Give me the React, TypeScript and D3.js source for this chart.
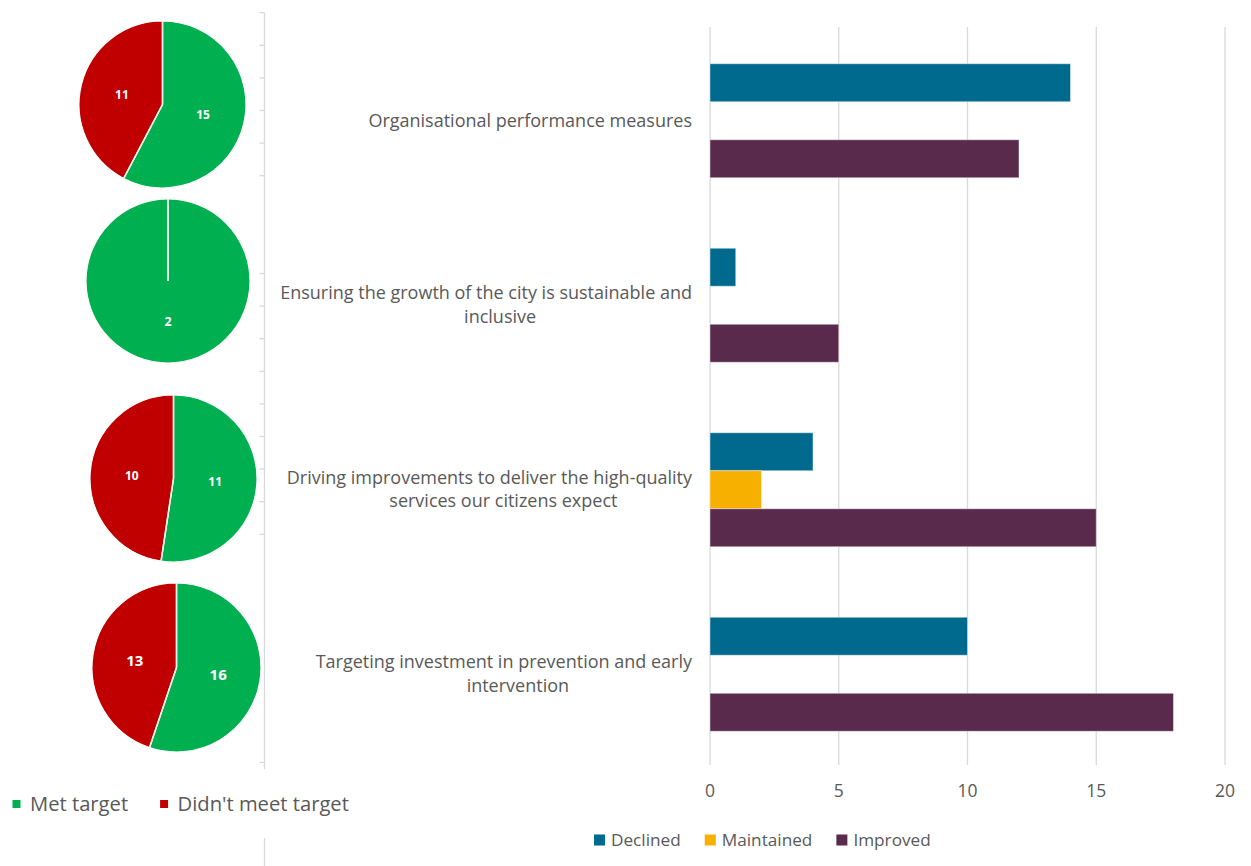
import { useEffect, useRef } from "react";
import * as d3 from "d3";

// bar chart data
const categories = [
  ["Organisational performance measures"],
  ["Ensuring the growth of the city is sustainable and", "inclusive"],
  ["Driving improvements to deliver the high-quality", "services our citizens expect"],
  ["Targeting investment in prevention and early", "intervention"],
];
const seriesNames = ["Declined", "Maintained", "Improved"];
const declined = [14, 1, 4, 10];
const maintained = [0, 0, 2, 0];
const improved = [12, 5, 15, 18];
const xTicks = [0, 5, 10, 15, 20];

// pie data (one pie per row)
const pieMet = [15, 2, 11, 16];
const pieMissed = [11, 0, 10, 13];
const pieLegend = ["Met target", "Didn't meet target"];

const seriesColors = ["#006a8e", "#f8b000", "#5a2a4c"];
const pieColors = ["#00b050", "#c00000"];
const textGray = "#595959";
const gridGray = "#d9d9d9";
const font = "'Open Sans', sans-serif";

// where the pies sit (they were placed by hand in the original)
const pieLayout = [
  { cx: 162.5, cy: 104.5, r: 83.5, fs: 12 },
  { cx: 168, cy: 281, r: 82, fs: 12.5 },
  { cx: 173.5, cy: 478.5, r: 83.5, fs: 12 },
  { cx: 176.5, cy: 667.5, r: 84.5, fs: 15 },
];

const W = 1251;
const H = 866;

export default function App() {
  const ref = useRef<SVGSVGElement | null>(null);

  useEffect(() => {
    if (!ref.current) return;
    const svg = d3.select(ref.current);
    svg.selectAll("*").remove();

    // ---- left axis line with ticks
    const axisX = 264.5;
    const tickStep = 32.6;
    const tickTop = 12.7;
    const tickIdx = [0, 1, 2, 3, 4, 5, 8, 9, 10, 11, 12, 13, 14, 15, 16, 23];
    svg.append("line")
      .attr("x1", axisX).attr("x2", axisX)
      .attr("y1", tickTop).attr("y2", 769)
      .attr("stroke", gridGray).attr("stroke-width", 1.3);
    svg.selectAll("line.ltick")
      .data(tickIdx)
      .enter().append("line")
      .attr("class", "ltick")
      .attr("x1", axisX - 5).attr("x2", axisX)
      .attr("y1", d => tickTop + d * tickStep)
      .attr("y2", d => tickTop + d * tickStep)
      .attr("stroke", gridGray).attr("stroke-width", 1.3);
    svg.append("line")
      .attr("x1", axisX).attr("x2", axisX)
      .attr("y1", 838).attr("y2", H)
      .attr("stroke", gridGray).attr("stroke-width", 1.3);

    // ---- pies
    const pie = d3.pie<number>().sort(null).value(d => d);
    pieLayout.forEach((p, i) => {
      const vals = [pieMet[i], pieMissed[i]];
      const arcs = pie(vals);
      const arc = d3.arc<d3.PieArcDatum<number>>().innerRadius(0).outerRadius(p.r);
      const g = svg.append("g").attr("transform", `translate(${p.cx},${p.cy})`);
      g.selectAll("path")
        .data(arcs)
        .enter().append("path")
        .attr("d", arc)
        .attr("fill", (_, j) => pieColors[j])
        .attr("stroke", "#fff")
        .attr("stroke-width", 1.2);
      // slice separators (also shows the zero slice edge)
      g.selectAll("line")
        .data(arcs)
        .enter().append("line")
        .attr("x1", 0).attr("y1", 0)
        .attr("x2", d => p.r * Math.sin(d.startAngle))
        .attr("y2", d => -p.r * Math.cos(d.startAngle))
        .attr("stroke", "#e8f0e8").attr("stroke-width", 1.6);
      g.selectAll("text")
        .data(arcs.filter(d => d.value > 0))
        .enter().append("text")
        .attr("transform", d => `translate(${arc.centroid(d)})`)
        .attr("text-anchor", "middle")
        .attr("dy", "0.35em")
        .attr("fill", "#fff")
        .attr("font-family", font)
        .attr("font-weight", "bold")
        .attr("font-size", p.fs)
        .text(d => d.value);
    });

    // pie legend
    const lg = svg.append("g").attr("transform", "translate(12.5,804)");
    let lx = 0;
    pieLegend.forEach((name, i) => {
      lg.append("rect").attr("x", lx).attr("y", -4).attr("width", 8).attr("height", 8).attr("fill", pieColors[i]);
      const t = lg.append("text")
        .attr("x", lx + 17.5).attr("y", 0).attr("dy", "0.35em")
        .attr("fill", textGray).attr("font-family", font).attr("font-size", 20.2)
        .text(name);
      lx += 17.5 + (t.node() as SVGTextElement).getComputedTextLength() + 32;
    });

    // ---- bar chart
    const x = d3.scaleLinear().domain([0, 20]).range([710, 1225]);
    const y = d3.scaleBand<number>().domain(d3.range(categories.length)).range([27, 765])
      .paddingInner(0.382).paddingOuter(0.191);
    const inner = d3.scaleBand<number>().domain(d3.range(seriesNames.length)).range([0, y.bandwidth()]);

    svg.selectAll("line.grid")
      .data(xTicks)
      .enter().append("line")
      .attr("class", "grid")
      .attr("x1", d => x(d)).attr("x2", d => x(d))
      .attr("y1", 27).attr("y2", 765)
      .attr("stroke", gridGray).attr("stroke-width", 1.3);

    svg.selectAll("text.xt")
      .data(xTicks)
      .enter().append("text")
      .attr("class", "xt")
      .attr("x", d => x(d)).attr("y", 791).attr("dy", "0.35em")
      .attr("text-anchor", "middle")
      .attr("fill", textGray).attr("font-family", font).attr("font-size", 17.5)
      .text(d => d);

    const series = [declined, maintained, improved];
    series.forEach((vals, s) => {
      svg.append("g").selectAll("rect")
        .data(vals.map((v, i) => ({ v, i })).filter(d => d.v > 0))
        .enter().append("rect")
        .attr("x", x(0))
        .attr("y", d => (y(d.i) as number) + (inner(s) as number) + 1.5)
        .attr("width", d => x(d.v) - x(0))
        .attr("height", inner.bandwidth())
        .attr("fill", seriesColors[s])
        .attr("stroke", "#ffffff").attr("stroke-opacity", 0.45).attr("stroke-width", 1);
    });

    // category labels: block right-aligned, lines centred within it
    // (Excel nudges the wrapped lines a bit to the right)
    const labelRight = 692;
    const lineH = 23.5;
    const wrapShift = 14;
    categories.forEach((lines, i) => {
      const cy = (y(i) as number) + y.bandwidth() / 2 + 1;
      const g = svg.append("g");
      const texts = lines.map((ln, k) =>
        g.append("text")
          .attr("y", cy + (k - (lines.length - 1) / 2) * lineH)
          .attr("dy", "0.35em")
          .attr("text-anchor", "middle")
          .attr("fill", textGray).attr("font-family", font).attr("font-size", 18)
          .text(ln)
      );
      const widths = texts.map(t => (t.node() as SVGTextElement).getComputedTextLength());
      const maxW = d3.max(widths) || 0;
      texts.forEach((t, k) => t.attr("x", labelRight - maxW / 2 + (k > 0 ? wrapShift : 0)));
    });

    // series legend
    const sg = svg.append("g").attr("transform", "translate(594,840)");
    let sx = 0;
    seriesNames.forEach((name, i) => {
      sg.append("rect").attr("x", sx).attr("y", -5.5).attr("width", 11).attr("height", 11).attr("fill", seriesColors[i]);
      const t = sg.append("text")
        .attr("x", sx + 17).attr("y", 0).attr("dy", "0.35em")
        .attr("fill", textGray).attr("font-family", font).attr("font-size", 17.2)
        .text(name);
      sx += 17 + (t.node() as SVGTextElement).getComputedTextLength() + 24;
    });
  }, []);

  return (
    <svg
      ref={ref}
      width={W}
      height={H}
      style={{ position: "absolute", left: 0, top: 0, background: "#fff" }}
    />
  );
}
